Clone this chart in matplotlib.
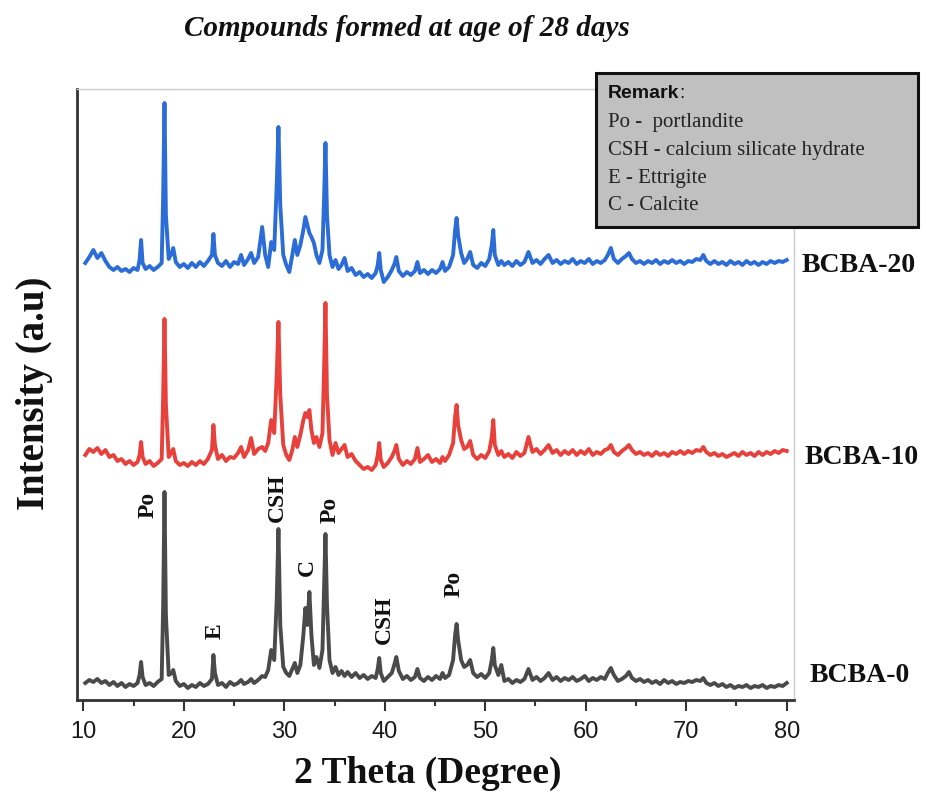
import matplotlib
matplotlib.use("Agg")
import matplotlib.pyplot as plt
from matplotlib import font_manager
from matplotlib.patches import Rectangle
from matplotlib.ticker import MultipleLocator

# ---------------- data ----------------
two_theta = [
    10.2, 10.6, 11.0, 11.4, 11.8, 12.2, 12.6, 13.0, 13.4, 13.8,
    14.2, 14.6, 15.0, 15.4, 15.6, 15.75, 15.9, 16.2, 16.6, 17.0,
    17.4, 17.8, 17.95, 18.08, 18.22, 18.5, 18.8, 18.95, 19.2, 19.6,
    20.0, 20.4, 20.8, 21.2, 21.6, 22.0, 22.4, 22.8, 22.95, 23.1,
    23.4, 23.8, 24.2, 24.6, 25.0, 25.4, 25.7, 26.0, 26.4, 26.7,
    27.0, 27.4, 27.8, 28.1, 28.4, 28.7, 29.0, 29.25, 29.42, 29.6,
    29.9, 30.2, 30.5, 30.8, 31.05, 31.3, 31.6, 31.9, 32.1, 32.3,
    32.5, 32.7, 32.95, 33.2, 33.5, 33.8, 33.97, 34.1, 34.25, 34.5,
    34.8, 35.1, 35.4, 35.7, 36.0, 36.3, 36.7, 37.1, 37.5, 37.9,
    38.3, 38.7, 39.1, 39.3, 39.45, 39.6, 39.9, 40.3, 40.7, 41.0,
    41.15, 41.4, 41.8, 42.2, 42.6, 43.0, 43.25, 43.5, 43.9, 44.3,
    44.7, 45.1, 45.5, 45.75, 46.0, 46.4, 46.8, 47.0, 47.15, 47.3,
    47.6, 47.9, 48.2, 48.5, 48.8, 49.2, 49.6, 50.0, 50.4, 50.65,
    50.8, 50.95, 51.3, 51.6, 51.9, 52.3, 52.7, 53.1, 53.5, 53.9,
    54.3, 54.7, 55.1, 55.5, 55.9, 56.3, 56.7, 57.1, 57.5, 57.9,
    58.3, 58.7, 59.1, 59.5, 59.9, 60.3, 60.7, 61.1, 61.5, 61.9,
    62.2, 62.5, 62.8, 63.2, 63.6, 64.0, 64.3, 64.6, 65.0, 65.4,
    65.8, 66.2, 66.6, 67.0, 67.4, 67.8, 68.2, 68.6, 69.0, 69.4,
    69.8, 70.2, 70.6, 71.0, 71.4, 71.7, 72.0, 72.4, 72.8, 73.2,
    73.6, 74.0, 74.4, 74.8, 75.2, 75.6, 76.0, 76.4, 76.8, 77.2,
    77.6, 78.0, 78.4, 78.8, 79.2, 79.6, 80.0,
]

bcba_0 = [
    12, 15, 13, 16, 12, 14, 10, 13, 9, 12,
    8, 11, 9, 12, 20, 33, 18, 10, 12, 9,
    13, 16, 90, 203, 80, 20, 22, 25, 14, 9,
    11, 7, 10, 8, 12, 9, 11, 16, 40, 22,
    10, 12, 8, 13, 10, 12, 15, 11, 13, 16,
    12, 15, 19, 18, 25, 45, 35, 95, 166, 70,
    28, 22, 19, 26, 32, 22, 30, 60, 87, 70,
    103, 60, 30, 38, 27, 45, 110, 161, 90, 35,
    22, 28, 20, 24, 19, 23, 18, 22, 17, 20,
    16, 19, 17, 26, 37, 22, 14, 18, 22, 32,
    38, 24, 16, 19, 15, 18, 26, 17, 14, 18,
    15, 19, 16, 22, 17, 20, 35, 60, 71, 55,
    35, 28, 30, 35, 22, 18, 21, 17, 22, 35,
    47, 30, 20, 30, 14, 16, 12, 15, 13, 16,
    26, 15, 18, 14, 17, 22, 15, 18, 14, 17,
    15, 18, 14, 16, 19, 14, 17, 15, 18, 16,
    22, 27, 20, 14, 16, 19, 23, 17, 14, 16,
    13, 15, 12, 14, 11, 15, 12, 14, 11, 13,
    12, 14, 13, 15, 14, 17, 12, 10, 12, 9,
    11, 8, 10, 7, 9, 8, 10, 7, 9, 8,
    10, 7, 9, 8, 10, 9, 12,
]

bcba_10 = [
    240, 246, 243, 247, 241, 245, 238, 240, 234, 236,
    231, 234, 230, 233, 240, 253, 238, 231, 234, 229,
    232, 236, 300, 376, 290, 238, 243, 246, 234, 230,
    232, 229, 233, 230, 234, 231, 236, 245, 270, 250,
    236, 240, 234, 238, 237, 242, 248, 238, 245, 257,
    241, 246, 248, 244, 252, 275, 262, 320, 373, 300,
    250, 240, 235, 245, 258, 248, 260, 275, 282, 278,
    285, 265, 252, 258, 248, 262, 330, 392, 300, 255,
    240, 252, 242, 246, 250, 238, 241, 234, 230, 226,
    228, 225, 230, 240, 252, 235, 228, 232, 238, 245,
    250, 236, 230, 234, 231, 236, 247, 233, 236, 240,
    233, 236, 232, 238, 234, 240, 252, 278, 290, 270,
    255, 246, 248, 254, 240, 236, 240, 237, 244, 258,
    275, 250, 240, 244, 238, 241, 237, 243, 239, 242,
    258, 243, 246, 241, 245, 250, 242, 245, 240, 244,
    241, 245, 240, 244, 241, 246, 240, 243, 241, 245,
    246, 250, 243, 240, 244, 247, 250, 245, 241, 243,
    240, 242, 239, 243, 240, 242, 239, 243, 241, 244,
    241, 244, 242, 245, 244, 248, 243, 240, 242, 239,
    241, 238, 240, 242, 239, 243, 240, 242, 239, 243,
    240, 243, 241, 244, 242, 245, 244,
]

bcba_20 = [
    432, 438, 445, 437, 442, 434, 428, 425, 428, 424,
    426, 423, 427, 425, 435, 455, 432, 426, 429, 425,
    428, 432, 500, 592, 480, 436, 442, 447, 433, 428,
    431, 427, 432, 428, 433, 429, 434, 440, 461, 440,
    432, 429, 434, 428, 433, 431, 440, 430, 436, 442,
    432, 438, 468, 440, 428, 453, 445, 510, 568, 490,
    440, 430, 423, 440, 455, 440, 450, 465, 478, 470,
    462, 458, 452, 440, 432, 445, 500, 552, 480, 440,
    428, 435, 426, 430, 437, 424, 427, 420, 423, 418,
    421, 417, 422, 430, 442, 425, 413, 418, 425, 432,
    438, 424, 419, 423, 420, 424, 433, 422, 425, 421,
    425, 422, 426, 433, 424, 428, 440, 465, 477, 460,
    442, 432, 436, 443, 430, 427, 432, 429, 436, 450,
    465, 440, 430, 434, 430, 433, 429, 434, 430, 433,
    443, 432, 435, 431, 436, 440, 432, 435, 431, 434,
    432, 436, 431, 434, 432, 436, 431, 434, 432, 435,
    440, 447, 436, 432, 436, 439, 442, 436, 432, 434,
    431, 434, 432, 435, 431, 434, 432, 435, 432, 434,
    431, 434, 433, 436, 435, 440, 434, 431, 434, 431,
    433, 430, 434, 431, 433, 430, 434, 431, 433, 430,
    433, 431, 434, 432, 434, 433, 435,
]

series_names = ["BCBA-0", "BCBA-10", "BCBA-20"]
series_colors = ["#4a4a4a", "#e8403a", "#2b6cd6"]

peak_labels = ["Po", "E", "CSH", "C", "Po", "CSH", "Po"]
peak_label_x = [16.45, 23.1, 29.27, 32.34, 34.53, 40.0, 46.94]
peak_label_y = [190, 64, 197, 128, 185, 75, 111]

remark_lines = ["Po -  portlandite", "CSH - calcium silicate hydrate",
                "E - Ettrigite", "C - Calcite"]

# ---------------- fonts ----------------
available = {f.name for f in font_manager.fontManager.ttflist}
serif = "Liberation Serif"
sans = "Liberation Sans"
narrow = "Liberation Sans Narrow" if "Liberation Sans Narrow" in available else "Liberation Sans"

# ---------------- figure ----------------
W, H = 926, 796
fig = plt.figure(figsize=(W / 100, H / 100), dpi=100)
ax = fig.add_axes([76.7 / W, 1 - 700 / H, (794.3 - 76.7) / W, (700 - 89) / H])

for ys, c in zip([bcba_0, bcba_10, bcba_20], series_colors):
    ax.plot(two_theta, ys, color=c, lw=2.8, solid_joinstyle="round")

ax.set_xlim(9.343, 80.756)
ax.set_ylim(-5, 606)
ax.xaxis.set_major_locator(MultipleLocator(10))
ax.xaxis.set_minor_locator(MultipleLocator(5))
ax.set_yticks([])
ax.tick_params(axis="x", which="major", direction="out", length=8, width=1.5,
               color="#333333", pad=7, labelsize=17)
ax.tick_params(axis="x", which="minor", direction="out", length=4.5, width=1.5,
               color="#333333")
for lab in ax.get_xticklabels():
    lab.set_fontfamily(narrow)
    lab.set_color("#1a1a1a")

for side in ["left", "bottom"]:
    ax.spines[side].set_color("#333333")
    ax.spines[side].set_linewidth(2.0)
for side in ["top", "right"]:
    ax.spines[side].set_color("#cccccc")
    ax.spines[side].set_linewidth(1.0)

# peak annotations
for t, x, y in zip(peak_labels, peak_label_x, peak_label_y):
    ax.text(x, y, t, rotation=90, ha="center", va="center", fontsize=17,
            fontweight="bold", family=serif, color="#111111")

# series names at right
name_px = [(810, 676), (805, 458), (802, 266)]
for name, (px, py) in zip(series_names, name_px):
    fig.text(px / W, 1 - py / H, name, ha="left", va="center", fontsize=20,
             fontweight="bold", family=serif, color="#111111")

# axis labels & title
fig.text(428 / W, 1 - 773 / H, "2 Theta (Degree)", ha="center", va="center",
         fontsize=27, fontweight="bold", family=serif, color="#111111")
fig.text(35 / W, 1 - 393 / H, "Intensity (a.u)", ha="center", va="center",
         rotation=90, fontsize=28, fontweight="bold", family=serif, color="#111111")
fig.text(407 / W, 1 - 28 / H, "Compounds formed at age of 28 days", ha="center",
         va="center", fontsize=21, fontweight="bold", style="italic", family=serif,
         color="#111111")

# remark box
bx0, bx1, by0, by1 = 596, 918, 72.7, 227
rect = Rectangle((bx0 / W, 1 - by1 / H), (bx1 - bx0) / W, (by1 - by0) / H,
                 transform=fig.transFigure, facecolor="#c0c0c0", edgecolor="#111111",
                 lw=2.2, zorder=5)
fig.add_artist(rect)
t_rem = fig.text(608 / W, 1 - 94 / H, "Remark", ha="left", va="center", fontsize=14,
                 fontweight="bold", family=sans, color="#111111", zorder=6)
fig.canvas.draw()
bb = t_rem.get_window_extent()
fig.text(bb.x1 / W, 1 - 94 / H, ":", ha="left", va="center", fontsize=14,
         family=sans, color="#111111", zorder=6)
for line, py in zip(remark_lines, [122, 150, 178, 206]):
    fig.text(608 / W, 1 - py / H, line, ha="left", va="center", fontsize=15,
             family=serif, color="#222222", zorder=6)

fig.savefig("out.png", dpi=100)
